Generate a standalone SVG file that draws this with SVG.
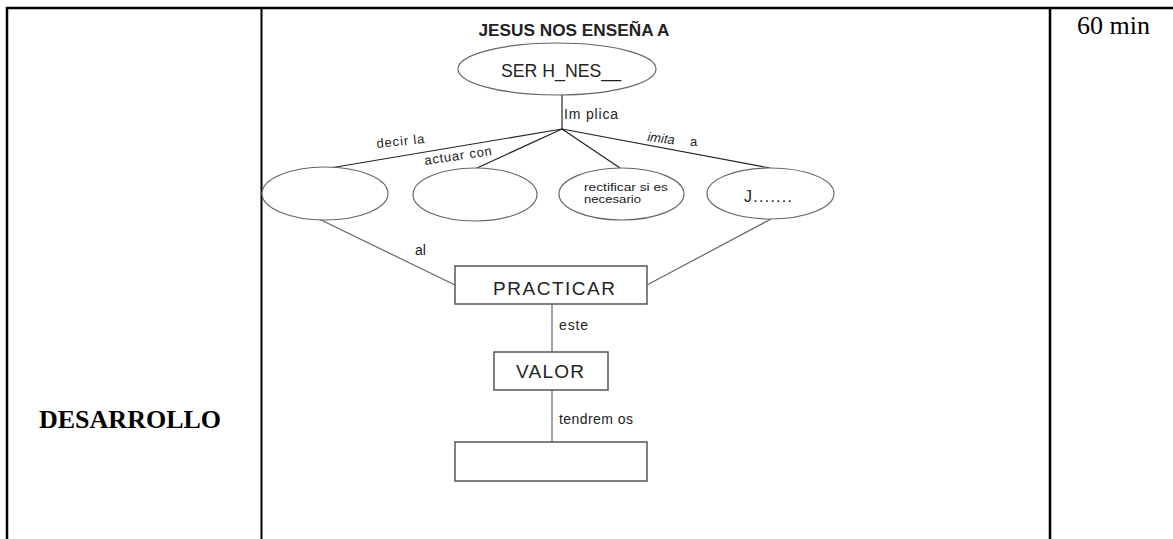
<svg xmlns="http://www.w3.org/2000/svg" width="1173" height="539" viewBox="0 0 1173 539">
<style>
.tb{stroke:#000;stroke-width:2.5;fill:none}
.ell{fill:#fff;stroke:#666;stroke-width:1.2}
.box{fill:#fff;stroke:#555;stroke-width:1.5}
.ln{stroke:#222;stroke-width:1.2;fill:none}
.gl{stroke:#666;stroke-width:1.2;fill:none}
.serif{font-family:"Liberation Serif","Times New Roman",serif;fill:#000}
.sans{font-family:"Liberation Sans",Arial,sans-serif;fill:#222}
</style>
<rect width="1173" height="539" fill="#fff"/>
<g id="table">
<line class="tb" x1="6" y1="8" x2="1173" y2="8"/>
<line class="tb" x1="7" y1="7" x2="7" y2="539"/>
<line x1="261.5" y1="8" x2="261.5" y2="539" stroke="#000" stroke-width="2"/>
<line class="tb" x1="1050" y1="8" x2="1050" y2="539"/>
<text class="serif" x="39" y="428" font-size="26" font-weight="bold">DESARROLLO</text>
<text class="serif" x="1077" y="34" font-size="26">60 min</text>
</g>
<g id="connectors">
<line class="ln" x1="562" y1="95" x2="562" y2="129"/>
<line class="ln" x1="562" y1="129" x2="330" y2="168"/>
<line class="ln" x1="562" y1="129" x2="477" y2="168"/>
<line class="ln" x1="562" y1="129" x2="620" y2="168"/>
<line class="ln" x1="562" y1="129" x2="770" y2="168"/>
<line class="gl" x1="319" y1="219" x2="455" y2="285"/>
<line class="gl" x1="771" y1="219" x2="647" y2="285"/>
<line class="gl" x1="552" y1="304" x2="552" y2="352"/>
<line class="gl" x1="552" y1="390" x2="552" y2="442"/>
<text class="sans" x="564" y="119" font-size="14" textLength="54" lengthAdjust="spacing">Im plica</text>
<text class="sans" x="377" y="148" font-size="13" textLength="48" lengthAdjust="spacing" transform="rotate(-6 377 148)">decir  la</text>
<text class="sans" x="425" y="165" font-size="13" textLength="68" lengthAdjust="spacing" transform="rotate(-8.5 425 165)">actuar con</text>
<text class="sans" x="647" y="141" font-size="13" font-style="italic" transform="rotate(7 647 141)">imita</text>
<text class="sans" x="690" y="146" font-size="13">a</text>
<text class="sans" x="415" y="255" font-size="14">al</text>
<text class="sans" x="559" y="330" font-size="14" textLength="29" lengthAdjust="spacing">este</text>
<text class="sans" x="559" y="424" font-size="14" textLength="74" lengthAdjust="spacing">tendrem os</text>
</g>
<g id="title">
<text class="sans" x="574" y="35.5" font-size="17" font-weight="bold" text-anchor="middle" fill="#111" textLength="191" lengthAdjust="spacingAndGlyphs">JESUS NOS ENSEÑA A</text>
</g>
<g id="ser-honesto">
<ellipse class="ell" cx="557" cy="69" rx="99" ry="26"/>
<text class="sans" x="501" y="77" font-size="18" textLength="120" lengthAdjust="spacingAndGlyphs">SER H_NES__</text>
</g>
<g id="decir">
<ellipse class="ell" cx="325" cy="193.5" rx="63" ry="26.5"/>
</g>
<g id="actuar">
<ellipse class="ell" cx="475" cy="194.5" rx="62" ry="26.5"/>
</g>
<g id="rectificar">
<ellipse class="ell" cx="621.5" cy="194" rx="62.5" ry="26"/>
<text class="sans" x="584" y="190.5" font-size="11.5" textLength="84" lengthAdjust="spacingAndGlyphs">rectificar si es</text>
<text class="sans" x="584" y="203" font-size="11.5" textLength="57" lengthAdjust="spacingAndGlyphs">necesario</text>
</g>
<g id="imitar">
<ellipse class="ell" cx="770.5" cy="193.5" rx="63.5" ry="25.5"/>
<text class="sans" x="744" y="202" font-size="16" textLength="48" lengthAdjust="spacing">J.......</text>
</g>
<g id="practicar">
<rect class="box" x="455" y="266" width="192" height="38"/>
<text class="sans" x="493" y="295" font-size="19" textLength="122" lengthAdjust="spacing">PRACTICAR</text>
</g>
<g id="valor">
<rect class="box" x="494" y="352" width="114" height="38"/>
<text class="sans" x="516" y="377.5" font-size="19" textLength="68" lengthAdjust="spacing">VALOR</text>
</g>
<g id="resultado">
<rect class="box" x="455" y="442" width="192" height="39"/>
</g>
</svg>
